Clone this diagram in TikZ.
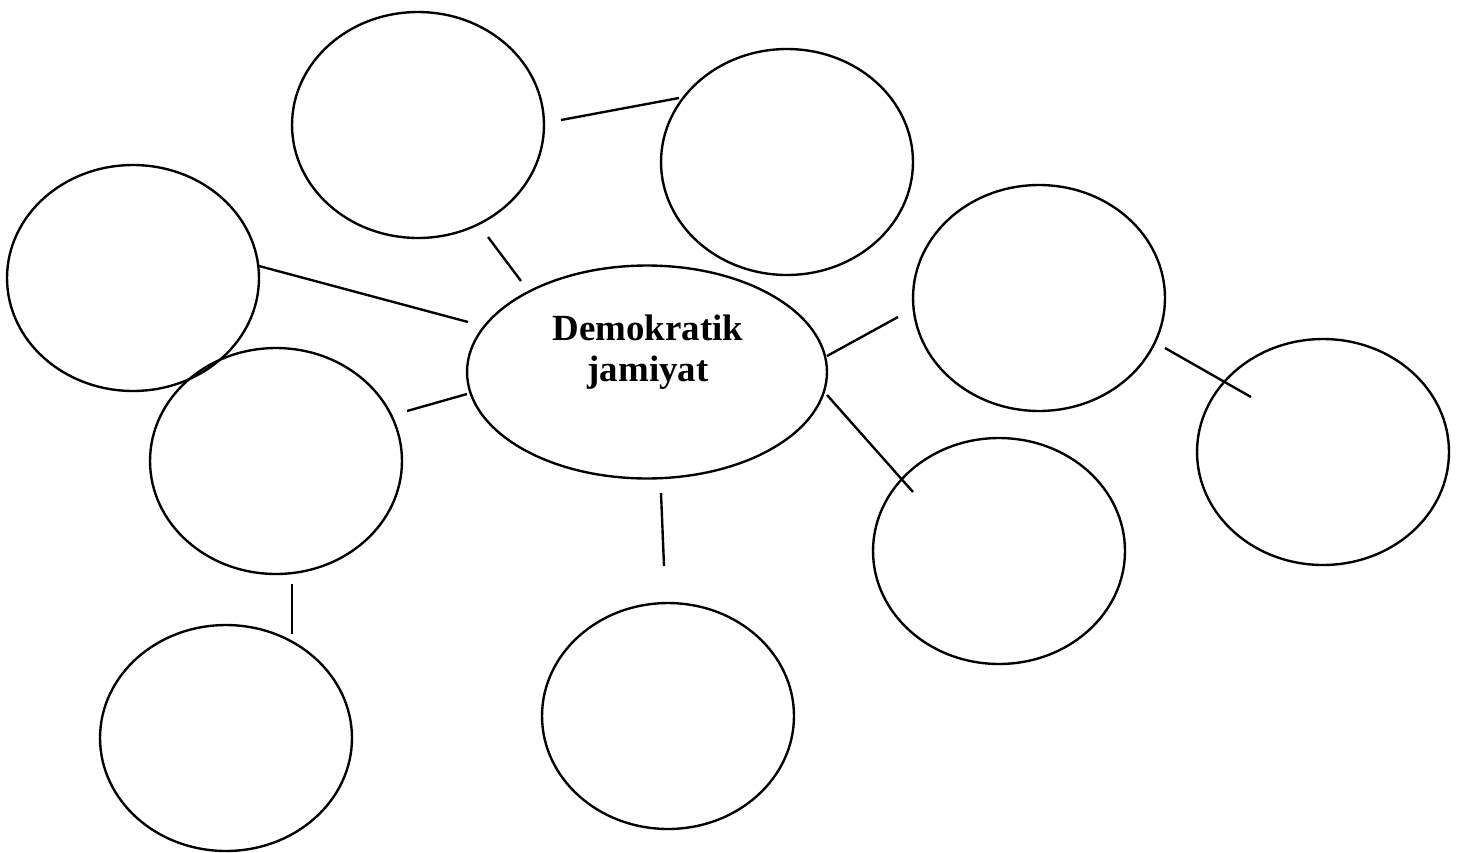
\documentclass[tikz,border=0pt]{standalone}
\usepackage{fontspec}
\setmainfont{Liberation Serif}
\usetikzlibrary{shapes.geometric}

\tikzset{
  bubble/.style={draw, ellipse, line width=1.35pt, inner sep=0pt,
    minimum width=5.04cm, minimum height=4.52cm},
  link/.style={line width=1.35pt}
}

\begin{document}
\begin{tikzpicture}[x=0.02cm, y=-0.02cm]
\useasboundingbox (0,0) rectangle (1462,852);
% central idea
\node[bubble, minimum width=7.2cm, minimum height=4.26cm] (c) at (647,372) {};
\node[font=\fontsize{21pt}{23.5pt}\selectfont\bfseries, align=center] (ctext) at (648,352) {Demokratik\\jamiyat};
% empty bubbles
\node[bubble] (e1) at (418,125) {};
\node[bubble] (e2) at (787,162) {};
\node[bubble] (e3) at (133,278) {};
\node[bubble] (e5) at (1039,298) {};
\node[bubble] (e6) at (1323,452) {};
\node[bubble] (e7) at (276,461) {};
\node[bubble] (e8) at (226,738) {};
\node[bubble] (e9) at (668,716) {};
\node[bubble] (e10) at (999,551) {};
% loose ends of the links
\coordinate (e1r) at (561,120);  \coordinate (e2l) at (679,98);
\coordinate (e1b) at (488,237);  \coordinate (c1) at (521,281);
\coordinate (e3r) at (259,266);  \coordinate (c3) at (468,322);
\coordinate (e7r) at (407,411);  \coordinate (c7) at (467,394);
\coordinate (c9) at (661,493);   \coordinate (e9t) at (664,566);
\coordinate (c5) at (827,356);   \coordinate (e5l) at (898,317);
\coordinate (c10) at (827,395);  \coordinate (e10t) at (913,492);
\coordinate (e5r) at (1165,348); \coordinate (e6l) at (1251,397);
\coordinate (e7b) at (292,584);  \coordinate (e8t) at (292,634);
% links
\draw[link] (e1r) -- (e2l);
\draw[link] (e1b) -- (c1);
\draw[link] (e3r) -- (c3);
\draw[link] (e7r) -- (c7);
\draw[link] (c9) -- (e9t);
\draw[link] (c5) -- (e5l);
\draw[link] (c10) -- (e10t);
\draw[link] (e5r) -- (e6l);
\draw[link] (e7b) -- (e8t);
\end{tikzpicture}
\end{document}
